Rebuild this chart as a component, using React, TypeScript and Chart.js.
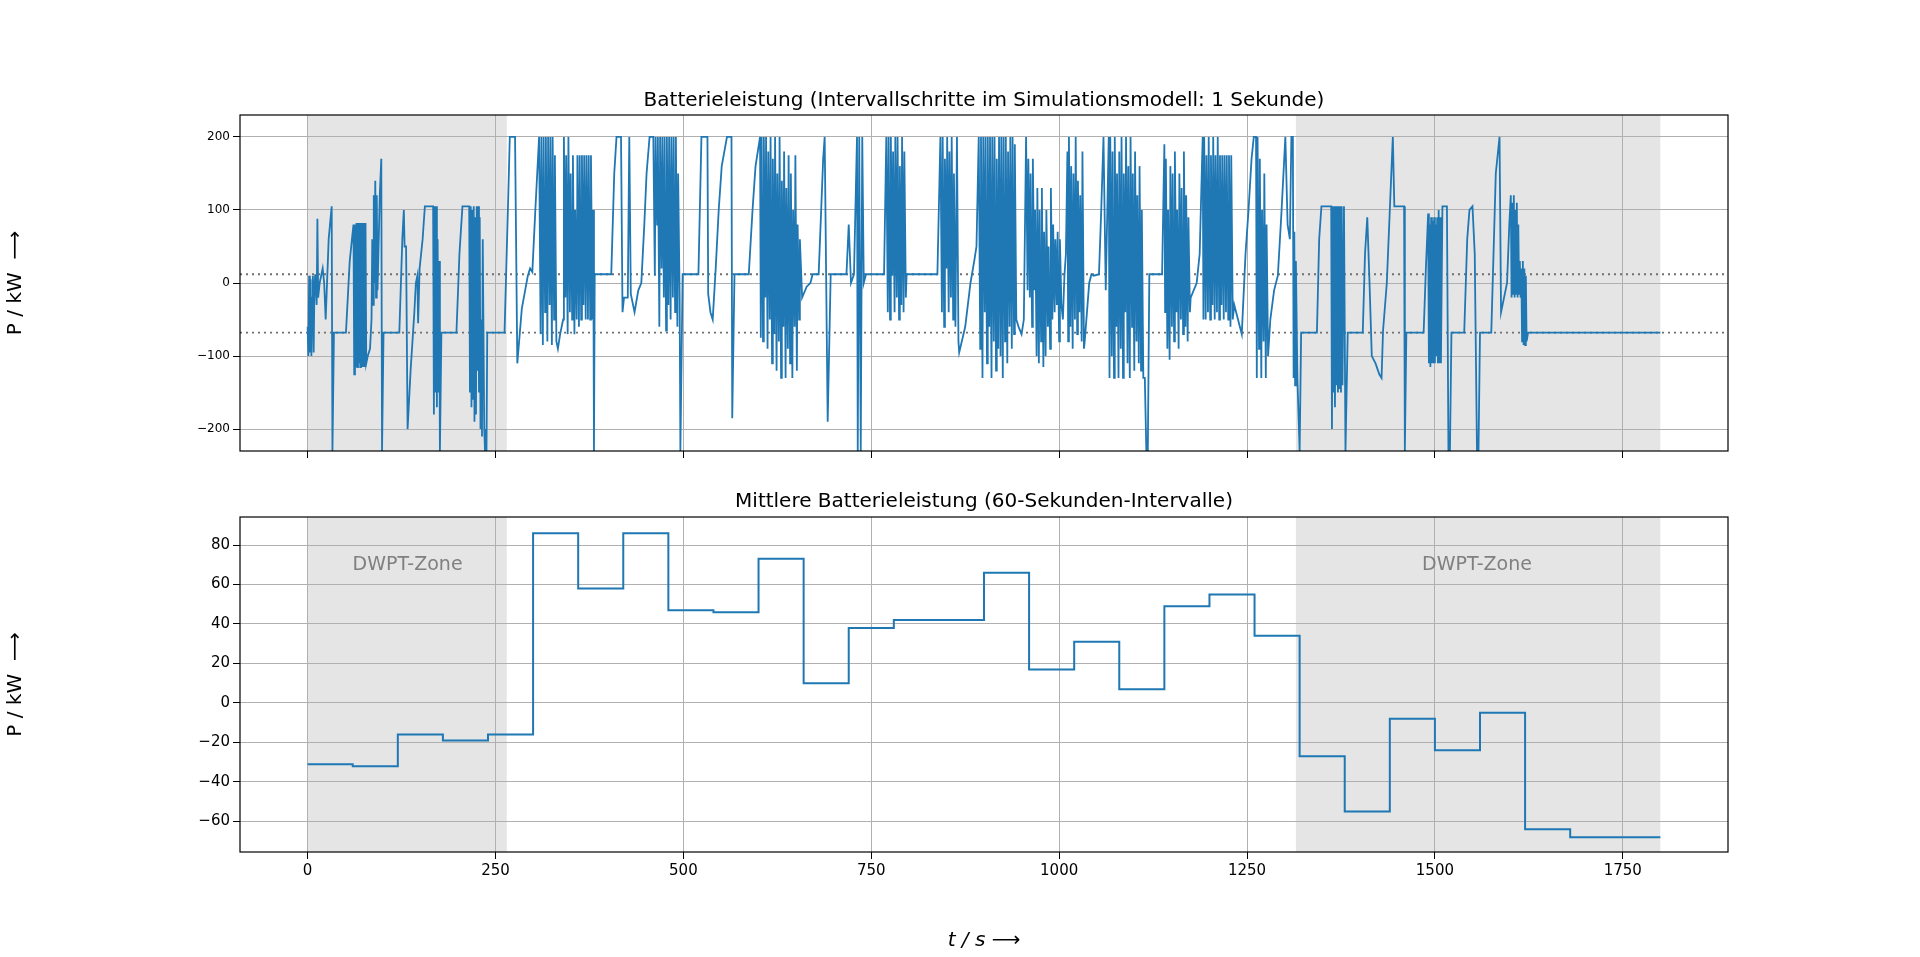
import Chart from 'chart.js/auto';
import { useEffect, useRef } from 'react';

// 1-second battery power trace [t in s, P in kW]
const batteryTrace: [number, number][] = [
  [0,-60],[1,-100],[2,10],[3,-95],[4,5],[5,-100],[6,-20],[7,10],[8,-95],[9,-10],[10,12],[12,-30],[13,88],[14,-20],[16,0],[18,10],[20,20],[22,0],[24,-50],[28,60],[32,105],[33,-230],[35,-68],[51,-68],[56,30],[59,60],[61,80],[62,-125],[63,80],[64,-115],[65,82],[66,-115],[67,82],[68,-110],[69,82],[70,-115],[71,82],[72,-115],[73,82],[74,-115],[75,82],[76,-115],[77,82],[78,-110],[80,-100],[83,-90],[85,-50],[86,60],[87,-30],[88,120],[89,0],[90,140],[91,-20],[92,120],[93,-10],[96,120],[98,170],[99,-230],[101,-68],[122,-68],[126,60],[128,100],[129,50],[131,50],[133,-200],[137,-120],[142,-40],[144,0],[146,10],[147,-55],[149,20],[153,60],[156,105],[167,105],[168,-180],[169,105],[170,-150],[171,105],[172,-170],[173,60],[174,-150],[175,30],[176,-230],[178,-68],[198,-68],[202,40],[206,105],[215,105],[216,-150],[217,105],[218,-170],[219,100],[220,-160],[221,105],[222,-190],[223,90],[224,-180],[225,105],[226,-120],[227,105],[228,-150],[229,90],[230,-200],[231,-50],[232,-210],[233,60],[235,-200],[236,-230],[238,-230],[239,-68],[262,-68],[267,120],[269,200],[276,200],[279,-110],[285,-35],[293,10],[296,20],[299,15],[303,100],[308,200],
  [310,-70],[311,200],[313,-85],[314,200],[316,-40],[317,200],[319,-80],[320,200],[322,-30],[323,200],[325,-85],[326,200],[328,-50],[329,175],[331,-80],[333,-90],[336,-70],[340,-50],[341,200],[343,-20],[344,175],[346,-70],[347,200],[349,-40],[350,150],[352,-50],[353,175],[355,-70],[356,100],[358,-50],[359,175],[361,-60],[362,175],[364,-50],[365,175],[367,-30],[368,175],[370,-50],[371,175],[373,-50],[374,175],[376,-50],[377,175],[379,-50],[380,100],[381,-230],[382,12],[404,12],[408,150],[411,200],[417,200],[419,-40],[421,-20],[426,-20],[428,200],[430,-15],[435,-40],[440,-10],[444,0],[448,80],[451,150],[455,200],[460,200],[462,10],[463,200],[465,80],[466,200],[468,-60],[469,200],[471,20],[472,200],[474,-20],[475,200],[477,-65],[478,200],[480,-30],[481,200],[483,-50],[484,200],[486,-20],[487,200],[489,-40],[490,200],[492,-60],[493,150],[495,-20],[496,-230],[499,12],[520,12],[524,200],[532,200],[533,-15],[536,-40],[539,-50],[543,20],[547,100],[551,160],[558,200],[564,200],[565,-185],[568,12],[587,12],[592,100],[596,160],[602,200],
  [603,-75],[604,200],[606,-80],[607,200],[609,-20],[610,200],[612,-90],[613,180],[615,-50],[616,200],[618,-110],[619,170],[621,-70],[622,200],[624,-120],[625,150],[627,-80],[628,200],[630,-130],[631,140],[633,-60],[634,180],[636,-130],[637,130],[639,-90],[640,175],[642,-110],[643,150],[645,-130],[646,100],[648,-60],[649,175],[651,-120],[652,80],[654,-50],[655,60],[658,-20],[664,-5],[669,0],[672,12],[680,12],[686,170],[688,200],[692,-190],[696,12],[717,12],[720,80],[723,0],[727,12],[731,200],[732,-230],[734,200],[736,-230],[738,200],[740,0],[743,12],[767,12],[770,200],[772,-40],[773,200],[775,-50],[776,200],[778,10],[779,180],[781,-40],[782,200],[784,-20],[785,200],[787,-50],[788,160],[790,-30],[791,200],[793,-40],[794,180],[796,-20],[797,12],[838,12],[842,200],[844,-40],[845,200],[847,-60],[848,170],[850,20],[851,200],[853,-40],[854,180],[856,-20],[857,200],[859,-50],[860,150],[862,-60],[864,200],[866,-80],[867,-95],[875,-60],[882,0],[887,30],[890,50],[893,200],[895,-90],[896,200],[898,-130],[899,200],[901,-40],[902,200],[904,-110],[905,200],[907,-60],[908,200],[910,-130],[911,200],[913,-80],[914,200],[916,-120],[917,170],[919,-90],[920,200],[922,-100],[923,200],[925,-130],[926,200],[928,-80],[929,200],[931,-110],[932,180],[934,-60],[935,200],[937,-90],[938,200],[940,-70],[941,190],[943,-50],[946,-60],[950,-70],[953,-50],[956,200],[958,-10],[959,170],[961,-20],[962,150],[964,-60],[965,170],[967,-10],[968,100],[970,-100],[971,130],[973,-110],[974,100],[976,-80],[977,130],[979,-115],[980,70],[982,-100],[983,100],[985,-60],[986,50],[988,-90],[989,130],[991,-50],[992,80],[994,-40],[995,60],[997,-30],[998,70],[1000,-80],[1001,60],[1003,-30],[1005,-50],[1007,10],[1009,40],[1011,180],[1012,-80],[1013,200],[1015,-60],[1016,160],[1018,-90],[1019,150],[1021,-50],[1022,200],[1024,-70],[1025,140],[1027,-40],[1028,120],[1030,-80],[1031,180],[1033,-90],[1034,-80],[1040,0],[1043,12],[1046,10],[1053,12],[1056,100],[1059,200],[1062,-10],[1066,200],[1067,-130],[1068,200],[1070,-100],[1071,180],[1073,-130],[1074,200],[1076,-60],[1077,150],[1079,-130],[1080,180],[1082,-90],[1083,200],[1085,-130],[1086,150],[1088,-40],[1089,200],[1091,-110],[1092,160],[1094,-130],[1095,200],[1097,-60],[1098,150],[1100,-120],[1101,180],[1103,-80],[1104,120],[1106,-110],[1107,160],[1109,-120],[1110,100],[1112,-130],[1114,-130],[1116,-230],[1118,-230],[1120,12],[1137,12],
  [1140,190],[1141,-40],[1142,170],[1144,-90],[1145,100],[1147,-105],[1148,160],[1150,-60],[1151,150],[1153,-80],[1154,180],[1156,-40],[1157,100],[1159,-90],[1160,150],[1162,-50],[1163,130],[1165,-70],[1166,180],[1168,-60],[1169,120],[1171,-80],[1172,90],[1174,-40],[1175,-20],[1183,0],[1187,40],[1191,200],[1192,-50],[1193,200],[1195,-50],[1196,175],[1198,-40],[1199,200],[1201,-50],[1202,175],[1204,-30],[1205,200],[1207,-50],[1208,175],[1210,-40],[1211,200],[1213,-50],[1214,175],[1216,-30],[1217,175],[1219,-50],[1220,175],[1222,-40],[1223,175],[1225,-50],[1226,175],[1228,-60],[1229,175],[1231,-50],[1233,-30],[1238,-50],[1243,-70],[1248,40],[1252,100],[1256,170],[1259,200],[1262,200],[1263,-130],[1264,200],[1266,-90],[1267,170],[1269,-130],[1270,100],[1272,-80],[1273,150],[1275,-130],[1276,80],[1278,-100],[1281,-50],[1286,-10],[1291,10],[1296,100],[1301,200],[1304,80],[1307,60],[1309,200],[1311,200],[1312,-130],[1313,70],[1314,-140],[1315,30],[1317,-130],[1320,-230],[1322,-68],[1343,-68],[1346,60],[1349,105],[1362,105],[1363,-200],[1364,105],[1365,-150],[1366,105],[1367,-170],[1368,105],[1369,-140],[1370,105],[1371,-150],[1372,105],[1373,-145],[1374,105],[1375,-150],[1376,105],[1377,-140],[1379,105],[1381,-230],[1384,-68],[1404,-68],[1407,40],[1410,90],[1413,0],[1416,-100],[1421,-110],[1426,-125],[1429,-130],[1431,-65],[1436,0],[1440,100],[1444,200],[1446,105],[1459,105],[1460,-230],[1462,-68],[1485,-68],[1488,20],[1491,95],[1492,-110],[1493,80],[1494,-115],[1495,90],[1496,-110],[1497,85],[1498,-110],[1499,90],[1500,-110],[1501,80],[1502,-100],[1503,90],[1504,-110],[1505,100],[1506,-110],[1507,90],[1508,-110],[1510,105],[1513,105],[1516,105],[1518,-230],[1520,-230],[1522,-68],[1539,-68],[1543,60],[1546,100],[1550,105],[1553,40],[1556,-230],[1558,-230],[1560,-68],[1575,-68],[1578,40],[1581,150],[1586,200],[1588,-40],[1592,-20],[1596,0],[1599,80],[1601,120],[1602,-20],[1603,110],[1604,-15],[1605,120],[1606,-20],[1607,100],[1608,-15],[1609,110],[1610,-20],[1611,80],[1612,-15],[1613,30],[1614,-20],[1615,20],[1616,-80],[1617,30],[1618,-85],[1619,20],[1620,-85],[1621,10],[1622,-80],[1624,-68],[1800,-68],
];

// 60-second interval means
const intervalStarts = [0,60,120,180,240,300,360,420,480,540,600,660,720,780,840,900,960,1020,1080,1140,1200,1260,1320,1380,1440,1500,1560,1620,1680,1740,1800];
const intervalMeans = [-31,-32,-16,-19,-16,86,58,86,47,46,73,10,38,42,42,66,17,31,7,49,55,34,-27,-55,-8,-24,-5,-64,-68,-68,-68];

const dwptZones: [number, number][] = [[0, 265], [1315, 1800]];
const thresholdLines = [12, -68];
const topTicks = [-200, -100, 0, 100, 200];
const bottomTicks = [-60, -40, -20, 0, 20, 40, 60, 80];
const xTicks = [0, 250, 500, 750, 1000, 1250, 1500, 1750];

const BLUE = '#1f77b4';
const GRID = '#b0b0b0';
const FONT = 'DejaVu Sans';
const fmt = (v: number) => (v < 0 ? '\u2212' + Math.abs(v) : String(v));

const zonePlugin = (labels: boolean) => ({
  id: 'zones',
  beforeDraw(chart: any) {
    const { ctx, chartArea, scales } = chart;
    ctx.save();
    ctx.fillStyle = '#e5e5e5';
    for (const [a, b] of dwptZones) {
      const x0 = scales.x.getPixelForValue(a);
      const x1 = scales.x.getPixelForValue(b);
      ctx.fillRect(x0, chartArea.top, x1 - x0, chartArea.bottom - chartArea.top);
    }
    ctx.restore();
  },
  afterDraw(chart: any) {
    const { ctx, chartArea, scales } = chart;
    ctx.save();
    if (labels) {
      ctx.fillStyle = '#808080';
      ctx.font = `19px ${FONT}`;
      ctx.textAlign = 'center';
      ctx.textBaseline = 'middle';
      ctx.fillText('DWPT-Zone', scales.x.getPixelForValue(133), scales.y.getPixelForValue(70));
      ctx.fillText('DWPT-Zone', scales.x.getPixelForValue(1556), scales.y.getPixelForValue(70));
    }
    ctx.strokeStyle = '#000';
    ctx.lineWidth = 1.2;
    ctx.strokeRect(chartArea.left, chartArea.top, chartArea.right - chartArea.left, chartArea.bottom - chartArea.top);
    ctx.restore();
  },
});

function makeScales(yMin: number, yMax: number, yTicks: number[], showX: boolean, tickSize: number, xHeight: number) {
  return {
    x: {
      type: 'linear' as const,
      min: -90,
      max: 1890,
      afterBuildTicks: (s: any) => { s.ticks = xTicks.map((v) => ({ value: v })); },
      afterFit: (s: any) => { s.height = xHeight; },
      grid: { color: GRID, lineWidth: 1, tickColor: '#000', tickLength: 7 },
      border: { display: false },
      ticks: { display: showX, color: '#000', font: { family: FONT, size: tickSize }, callback: (v: any) => fmt(v) },
      title: { display: showX, text: 't / s \u27F6', color: '#000', font: { family: FONT, size: 20, style: 'italic' as const }, padding: { top: 6 } },
    },
    y: {
      min: yMin,
      max: yMax,
      afterBuildTicks: (s: any) => { s.ticks = yTicks.map((v) => ({ value: v })); },
      afterFit: (s: any) => { s.width = 240; },
      grid: { color: GRID, lineWidth: 1, tickColor: '#000', tickLength: 7 },
      border: { display: false },
      ticks: { color: '#000', font: { family: FONT, size: tickSize }, callback: (v: any) => fmt(v) },
      title: { display: true, text: 'P / kW  \u27F6', color: '#000', font: { family: FONT, size: 20 }, padding: { bottom: 14 } },
    },
  };
}

const dottedSets = () =>
  thresholdLines.map((v) => ({
    data: [{ x: -90, y: v }, { x: 1890, y: v }],
    borderColor: '#707070',
    borderWidth: 1.8,
    borderDash: [2, 4],
    pointRadius: 0,
  }));

export default function App() {
  const topRef = useRef<HTMLCanvasElement>(null);
  const bottomRef = useRef<HTMLCanvasElement>(null);

  useEffect(() => {
    const top = new Chart(topRef.current!, {
      type: 'line',
      data: {
        datasets: [
          { data: batteryTrace.map(([x, y]) => ({ x, y })), borderColor: BLUE, borderWidth: 1.8, pointRadius: 0 },
          ...dottedSets(),
        ],
      },
      options: {
        animation: false,
        responsive: false,
        layout: { padding: { top: 115, right: 192, bottom: 0, left: 0 } },
        plugins: { legend: { display: false }, tooltip: { enabled: false } },
        scales: makeScales(-230, 230, topTicks, false, 12, 29),
      },
      plugins: [zonePlugin(false)],
    } as any);

    const bottom = new Chart(bottomRef.current!, {
      type: 'line',
      data: {
        datasets: [
          {
            data: intervalStarts.map((x, i) => ({ x, y: intervalMeans[i] })),
            borderColor: BLUE,
            borderWidth: 2,
            pointRadius: 0,
            stepped: 'before' as any,
          },
        ],
      },
      options: {
        animation: false,
        responsive: false,
        layout: { padding: { top: 37, right: 192, bottom: 0, left: 0 } },
        plugins: { legend: { display: false }, tooltip: { enabled: false } },
        scales: makeScales(-75.5, 94.2, bottomTicks, true, 15, 105),
      },
      plugins: [zonePlugin(true)],
    } as any);

    return () => {
      top.destroy();
      bottom.destroy();
    };
  }, []);

  const titleStyle = (y: number): React.CSSProperties => ({
    position: 'absolute', left: 240, width: 1488, top: y, textAlign: 'center',
    fontFamily: FONT, fontSize: 20, color: '#000',
  });

  return (
    <div style={{ position: 'fixed', left: 0, top: 0, width: 1920, height: 957, background: '#fff' }}>
      <canvas ref={topRef} width={1920} height={480} style={{ position: 'absolute', left: 0, top: 0 }} />
      <canvas ref={bottomRef} width={1920} height={477} style={{ position: 'absolute', left: 0, top: 480 }} />
      <div style={titleStyle(87)}>Batterieleistung (Intervallschritte im Simulationsmodell: 1 Sekunde)</div>
      <div style={titleStyle(488)}>Mittlere Batterieleistung (60-Sekunden-Intervalle)</div>
    </div>
  );
}
